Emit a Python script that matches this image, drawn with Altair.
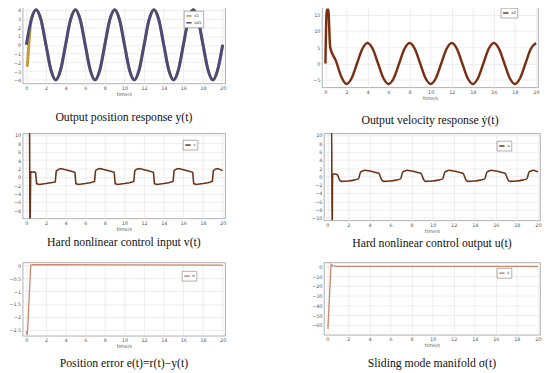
import altair as alt
import pandas as pd

TIME_TICKS = [0, 2, 4, 6, 8, 10, 12, 14, 16, 18, 20]

# ---------- panel 1: output position y(t) ----------
t_half = [0.0, 0.5, 1.0, 1.5, 2.0, 2.5, 3.0, 3.5, 4.0, 4.5, 5.0, 5.5, 6.0, 6.5, 7.0, 7.5,
          8.0, 8.5, 9.0, 9.5, 10.0, 10.5, 11.0, 11.5, 12.0, 12.5, 13.0, 13.5, 14.0, 14.5,
          15.0, 15.5, 16.0, 16.5, 17.0, 17.5, 18.0, 18.5, 19.0, 19.5, 20.0]
xd1 = [0, 2.83, 4, 2.83, 0, -2.83, -4, -2.83, 0, 2.83, 4, 2.83, 0, -2.83, -4, -2.83,
       0, 2.83, 4, 2.83, 0, -2.83, -4, -2.83, 0, 2.83, 4, 2.83, 0, -2.83, -4, -2.83,
       0, 2.83, 4, 2.83, 0, -2.83, -4, -2.83, 0]
t_x1_start = [0.05, 0.1, 0.2, 0.3, 0.4]
x1_start = [-2.5, -2.3, -0.9, 0.7, 2.0]

# ---------- panel 2: output velocity ----------
t_x2 = [0.0, 0.1, 0.15, 0.3, 0.35, 0.45, 1.0, 1.5, 2.0, 2.5, 3.0, 3.5, 4.0, 4.5, 5.0, 5.5,
        6.0, 6.5, 7.0, 7.5, 8.0, 8.5, 9.0, 9.5, 10.0, 10.5, 11.0, 11.5, 12.0, 12.5, 13.0,
        13.5, 14.0, 14.5, 15.0, 15.5, 16.0, 16.5, 17.0, 17.5, 18.0, 18.5, 19.0, 19.5, 20.0]
x2 = [0, 15.0, 16.5, 16.5, 12.0, 5.0, 0.8, -4.0, -6.28, -4.44, 0, 4.44, 6.28, 4.44, 0, -4.44,
      -6.28, -4.44, 0, 4.44, 6.28, 4.44, 0, -4.44, -6.28, -4.44, 0, 4.44, 6.28, 4.44, 0,
      -4.44, -6.28, -4.44, 0, 4.44, 6.28, 4.44, 0, -4.44, -6.28, -4.44, 0, 4.44, 6.28]

# ---------- panel 3: control input v(t) ----------
t_v = [0.0, 0.33, 0.37, 0.45, 0.6, 0.8, 0.95, 1.05, 1.3, 2.0, 2.5, 2.95,
       3.05, 3.3, 3.5, 4.0, 4.5, 4.95, 5.05, 5.3, 6.0, 6.5, 6.95,
       7.05, 7.3, 7.5, 8.0, 8.5, 8.95, 9.05, 9.3, 10.0, 10.5, 10.95,
       11.05, 11.3, 11.5, 12.0, 12.5, 12.95, 13.05, 13.3, 14.0, 14.5, 14.95,
       15.05, 15.3, 15.5, 16.0, 16.5, 16.95, 17.05, 17.3, 18.0, 18.5, 18.95,
       19.05, 19.3, 19.5, 20.0]
v = [15, 15, -15, 1.2, 1.1, 1.2, 1.0, -1.6, -1.8, -1.6, -1.4, -1.2,
     1.4, 1.8, 2.0, 1.7, 1.4, 1.1, -1.6, -1.8, -1.6, -1.4, -1.1,
     1.5, 1.9, 2.0, 1.7, 1.4, 1.1, -1.6, -1.8, -1.6, -1.4, -1.1,
     1.5, 1.9, 2.0, 1.7, 1.4, 1.1, -1.6, -1.8, -1.6, -1.4, -1.1,
     1.5, 1.9, 2.0, 1.7, 1.4, 1.1, -1.6, -1.8, -1.6, -1.4, -1.1,
     1.5, 1.9, 2.0, 1.5]

# ---------- panel 4: control output u(t) ----------
t_u = [0.0, 0.4, 0.45, 0.5, 0.7, 0.95, 1.15, 1.35, 2.0, 2.5, 2.95,
       3.15, 3.35, 3.55, 4.0, 4.5, 4.9, 5.15, 5.35, 6.0, 6.5, 6.95,
       7.15, 7.35, 7.55, 8.0, 8.5, 8.9, 9.15, 9.35, 10.0, 10.5, 10.95,
       11.15, 11.35, 11.55, 12.0, 12.5, 12.9, 13.15, 13.35, 14.0, 14.5, 14.95,
       15.15, 15.35, 15.55, 16.0, 16.5, 16.9, 17.15, 17.35, 18.0, 18.5, 18.95,
       19.15, 19.35, 19.55, 20.0]
u = [15, 15, -15, 0.6, 0.6, 0.4, -0.8, -1.2, -1.1, -0.9, -0.6,
     1.0, 1.3, 1.5, 1.3, 1.0, 0.7, -0.8, -1.2, -1.1, -0.9, -0.6,
     1.0, 1.3, 1.5, 1.3, 1.0, 0.7, -0.8, -1.2, -1.1, -0.9, -0.6,
     1.0, 1.3, 1.5, 1.3, 1.0, 0.7, -0.8, -1.2, -1.1, -0.9, -0.6,
     1.0, 1.3, 1.5, 1.3, 1.0, 0.7, -0.8, -1.2, -1.1, -0.9, -0.6,
     1.0, 1.3, 1.5, 1.1]

# ---------- panel 5: position error ----------
t_e = [0.0, 0.1, 0.15, 0.45, 0.6, 20.0]
e = [-2.55, -2.7, -2.4, 0.0, 0.02, 0.0]

# ---------- panel 6: sliding manifold ----------
t_s = [0.05, 0.35, 0.5, 1.0, 20.0]
s = [-64, 2.0, 0.5, 0.0, 0.0]


def frame(times, values, name):
    return pd.DataFrame({"t": times, "v": values, "s": name})


def panel(df, names, colors, ydom, yticks, caption, w, h, lx, ly, sw,
          interp="linear", xdom=(-0.37, 20.25), cap_off=8):
    legend = alt.Legend(orient="none", legendX=lx, legendY=ly, title=None)
    return alt.Chart(df).mark_line(interpolate=interp, strokeWidth=sw, clip=True).encode(
        x=alt.X("t:Q", scale=alt.Scale(domain=list(xdom), nice=False, zero=False),
                axis=alt.Axis(values=TIME_TICKS, title="time/s", format="~r")),
        y=alt.Y("v:Q", scale=alt.Scale(domain=list(ydom), nice=False, zero=False),
                axis=alt.Axis(values=yticks, title=None, format="~r")),
        color=alt.Color("s:N", scale=alt.Scale(domain=names, range=colors), legend=legend),
    ).properties(width=w, height=h,
                 title=alt.TitleParams(caption, orient="bottom", offset=cap_off))


df1 = pd.concat([frame(t_x1_start + t_half[1:], x1_start + xd1[1:], "x1"),
                 frame(t_half, xd1, "xd1")])
p1 = panel(df1, ["x1", "xd1"], ["#c39b3c", "#4b4a7c"], (-4.4, 4.4),
           [-4, -3, -2, -1, 0, 1, 2, 3, 4], "Output position response  y(t)",
           207, 79, 165, 5, 3, interp="monotone", cap_off=16)
p2 = panel(frame(t_x2, x2, "x2"), ["x2"], ["#7a2e12"], (-7.3, 17.6),
           [-5, 0, 5, 10, 15], "Output velocity response  ẏ(t)",
           221, 83, 183, 2, 2.5, interp="monotone", xdom=(-0.33, 20.2), cap_off=15)
p3 = panel(frame(t_v, v, "v"), ["v"], ["#6d3317"], (-9.9, 10.4),
           [-8, -6, -4, -2, 0, 2, 4, 6, 8, 10], "Hard nonlinear control input  v(t)",
           207, 87, 164, 7, 1.6, cap_off=6)
p4 = panel(frame(t_u, u, "u"), ["u"], ["#6d3317"], (-10.6, 10.4),
           [-10, -8, -6, -4, -2, 0, 2, 4, 6, 8, 10], "Hard nonlinear control output  u(t)",
           221, 89, 177, 8, 1.6, interp="monotone", xdom=(-0.33, 20.2), cap_off=5)
p5 = panel(frame(t_e, e, "e"), ["e"], ["#c98469"], (-2.73, 0.11),
           [-2.5, -2, -1.5, -1, -0.5, 0], "Position error  e(t)=r(t)−y(t)",
           207, 75, 163, 9, 1.3, cap_off=10)
p6 = panel(frame(t_s, s, "s"), ["s"], ["#c98469"], (-70, 4),
           [-60, -50, -40, -30, -20, -10, 0], "Sliding mode manifold  σ(t)",
           221, 74, 177, 6, 1.3, xdom=(-0.33, 20.2), cap_off=11)

row1 = alt.hconcat(p1, p2, spacing=86).resolve_scale(color="independent")
row2 = alt.hconcat(p3, p4, spacing=86).resolve_scale(color="independent")
row3 = alt.hconcat(p5, p6, spacing=86).resolve_scale(color="independent")

top_rows = alt.vconcat(row1, row2, spacing=6).resolve_scale(color="independent")

chart = alt.vconcat(top_rows, row3, spacing=12).resolve_scale(
    color="independent"
).properties(
    padding={"left": 0, "top": -7, "right": 0, "bottom": 0}
).configure_view(
    stroke="#9a9a9a", strokeWidth=0.8
).configure_axis(
    labelFont="DejaVu Sans", labelFontSize=5, labelColor="#555", grid=True,
    gridColor="#e2e2e2", gridWidth=0.6, domain=False, ticks=False, labelPadding=2,
    titleFont="DejaVu Sans", titleFontSize=5, titleFontWeight="normal",
    titleColor="#555", titlePadding=1
).configure_axisY(
    minExtent=10, maxExtent=10
).configure_title(
    font="Liberation Serif", fontSize=12, fontWeight="normal", color="#111",
    anchor="middle"
).configure_legend(
    strokeColor="#777", strokeWidth=0.6, fillColor="white", padding=1.5,
    labelFont="DejaVu Sans", labelFontSize=4, labelColor="#333",
    symbolType="stroke", symbolSize=30, symbolStrokeWidth=1.5, rowPadding=0,
    labelOffset=2, cornerRadius=0
)

chart.save("out.html", embed_options={"renderer": "svg", "actions": False})
